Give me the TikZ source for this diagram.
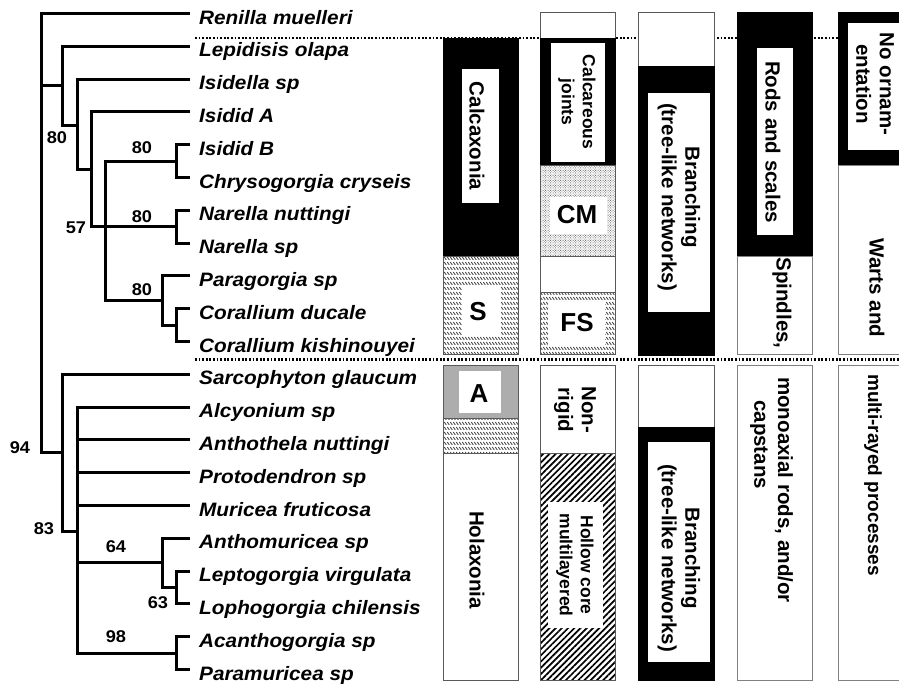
\documentclass[tikz,border=0pt]{standalone}
\usepackage{fontspec}
\setmainfont{Liberation Sans}
\usepackage{graphicx}
\usetikzlibrary{patterns,patterns.meta}
\pgfdeclarepatternformonly{ticks}{\pgfqpoint{-0.5pt}{-0.5pt}}{\pgfqpoint{3.5pt}{5.5pt}}{\pgfqpoint{3pt}{5pt}}{%
  \pgfsetlinewidth{0.9pt}%
  \pgfpathmoveto{\pgfqpoint{0.3pt}{3.9pt}}\pgfpathlineto{\pgfqpoint{2.3pt}{1.1pt}}\pgfusepath{stroke}}
\pgfdeclarepatternformonly{fine dots}{\pgfqpoint{-0.5pt}{-0.5pt}}{\pgfqpoint{3pt}{3pt}}{\pgfqpoint{2.5pt}{2.5pt}}{%
  \pgfpathcircle{\pgfqpoint{0.6pt}{0.6pt}}{0.55pt}%
  \pgfpathcircle{\pgfqpoint{1.85pt}{1.85pt}}{0.45pt}\pgfusepath{fill}}
\newcommand{\sx}[1]{\scalebox{1.07}[1]{#1}}
\begin{document}
\begin{tikzpicture}[x=1pt,y=-1pt,
  branch/.style={line width=3pt, line join=miter},
  taxon/.style={anchor=base west, inner sep=0pt, font=\fontsize{19.4}{21}\selectfont\bfseries\itshape},
  boot/.style={inner sep=0pt, font=\fontsize{17}{19}\selectfont\bfseries},
  vtext/.style={rotate=-90, align=center, inner sep=0pt, font=\fontsize{20.5}{23.5}\selectfont\bfseries},
  vsmall/.style={rotate=-90, align=center, inner sep=0pt, font=\fontsize{17.5}{21}\selectfont\bfseries},
  letter/.style={inner sep=0pt, font=\fontsize{26}{28}\selectfont\bfseries},
  box/.style={draw=black!65, line width=0.9pt, fill=white},
  lightbox/.style={draw=black!50, line width=0.9pt, fill=white},
  blackbox/.style={draw=black, line width=0.8pt, fill=black},
  hole/.style={fill=white, draw=none},
  tickfill/.style={draw=black!65, line width=0.9pt, pattern=ticks, pattern color=black!70},
  stipple/.style={draw=black!65, line width=0.9pt, pattern=fine dots, pattern color=black!60},
  hatch/.style={draw=black!65, line width=0.9pt, pattern={Lines[angle=45,distance=4.4pt,line width=1.7pt]}, pattern color=black},
  grayfill/.style={draw=black!65, line width=0.9pt, fill=black!32},
  dotline/.style={line width=2.2pt, dash pattern=on 1.8pt off 1.8pt}]
\useasboundingbox (0,0) rectangle (899,686);
\clip (0,0) rectangle (899,686);
\fill[white] (0,0) rectangle (899,686);

% ---------- taxa ----------
\foreach \i/\name in {0/Renilla muelleri,1/Lepidisis olapa,2/Isidella sp,3/Isidid A,4/Isidid B,5/Chrysogorgia cryseis,6/Narella nuttingi,7/Narella sp,8/Paragorgia sp,9/Corallium ducale,10/Corallium kishinouyei,11/Sarcophyton glaucum,12/Alcyonium sp,13/Anthothela nuttingi,14/Protodendron sp,15/Muricea fruticosa,16/Anthomuricea sp,17/Leptogorgia virgulata,18/Lophogorgia chilensis,19/Acanthogorgia sp,20/Paramuricea sp}{
  \pgfmathsetmacro{\yy}{13.5+32.8*\i}
  \coordinate (l\i) at (190,\yy);
  \node[taxon] (t\i) at (199,\yy+10.5) {\sx{\name}};
}

% ---------- internal nodes ----------
\coordinate (N1) at (62,85.8);
\coordinate (N2) at (77,125.2);
\coordinate (N3) at (91,169.3);
\coordinate (N4) at (105,226.7);
\coordinate (N5) at (176,161.1);
\coordinate (N6) at (176,226.7);
\coordinate (N7) at (162,300.5);
\coordinate (N8) at (176,325.1);
\coordinate (H1) at (62,452.7);
\coordinate (H2) at (77,531);
\coordinate (H3) at (162,562.9);
\coordinate (H4) at (176,587.5);
\coordinate (H5) at (176,653.1);
\coordinate (Ra) at (41,85.8);
\coordinate (Rb) at (41,452.7);

% ---------- branches ----------
\draw[branch] (l0) -| (Rb) -- (H1);
\draw[branch] (Ra) -- (N1);
\draw[branch] (l1) -| (N1) |- (N2);
\draw[branch] (l2) -| (N2) |- (N3);
\draw[branch] (l3) -| (N3) |- (N4);
\draw[branch] (N5) -| (N4) |- (N7);
\draw[branch] (N4) -- (N6);
\draw[branch] (l4) -| (N5) |- (l5);
\draw[branch] (l6) -| (N6) |- (l7);
\draw[branch] (l8) -| (N7) |- (N8);
\draw[branch] (l9) -| (N8) |- (l10);
\draw[branch] (l11) -| (H1) |- (H2);
\draw[branch] (l12) -| (H2) |- (H5);
\draw[branch] (l13) -- (l13 -| H2);
\draw[branch] (l14) -- (l14 -| H2);
\draw[branch] (l15) -- (l15 -| H2);
\draw[branch] (H2 |- H3) -- (H3);
\draw[branch] (l16) -| (H3) |- (H4);
\draw[branch] (l17) -| (H4) |- (l18);
\draw[branch] (l19) -| (H5) |- (l20);

% ---------- bootstrap values ----------
\node[boot] (b1) at (57,138) {\sx{80}};
\node[boot] (b2) at (142,148) {\sx{80}};
\node[boot] (b3) at (142,217) {\sx{80}};
\node[boot] (b4) at (76,228) {\sx{57}};
\node[boot] (b5) at (142,290) {\sx{80}};
\node[boot] (b6) at (20,448) {\sx{94}};
\node[boot] (b7) at (44,529) {\sx{83}};
\node[boot] (b8) at (116,547) {\sx{64}};
\node[boot] (b9) at (158,603) {\sx{63}};
\node[boot] (b10) at (116,637) {\sx{98}};

% ---------- dotted separators ----------
\draw[dotline] (195,38) -- (899,38);
\draw[dotline] (195,359.5) -- (899,359.5);

% ---------- column 1 ----------
\draw[blackbox] (443,38) rectangle (518,256);
\fill[hole] (462,69) rectangle (499,203);
\draw[tickfill] (443,256) rectangle (518,354);
\fill[hole] (462,286) rectangle (501,336);
\draw[grayfill] (443,365) rectangle (518,418);
\fill[hole] (459,371) rectangle (501,413);
\draw[tickfill] (443,418) rectangle (518,453);
\draw[box] (443,453) rectangle (518,680);
\node[vtext] (calc) at (477,136) {Calcaxonia};
\node[letter] (S) at (478,312) {S};
\node[letter] (A) at (479,394) {A};
\node[vtext] (holax) at (477,560) {Holaxonia};

% ---------- column 2 ----------
\draw[box] (540,12) rectangle (615,38);
\draw[blackbox] (540,38) rectangle (615,165);
\fill[hole] (551,43) rectangle (605,162);
\draw[stipple] (540,165) rectangle (615,256);
\fill[hole] (550,197) rectangle (607,234);
\draw[box] (540,256) rectangle (615,292);
\draw[tickfill] (540,292) rectangle (615,354);
\fill[hole] (548,302) rectangle (605,345);
\draw[box] (540,365) rectangle (615,453);
\draw[hatch] (540,453) rectangle (615,680);
\fill[hole] (548,502) rectangle (603,628);
\node[vsmall] (calj) at (577,102) {Calcareous\\joints};
\node[letter] (CM) at (577,215) {CM};
\node[letter] (FS) at (577,323) {FS};
\node[vtext] (nonr) at (575,410) {Non-\\rigid};
\node[vsmall] (holl) at (575,565) {Hollow core\\multilayered};

% ---------- column 3 ----------
\draw[box] (638,12) rectangle (714,66);
\draw[blackbox] (638,66) rectangle (714,355);
\fill[hole] (648,93) rectangle (710,312);
\draw[box] (638,365) rectangle (714,427);
\draw[blackbox] (638,427) rectangle (714,680);
\fill[hole] (648,442) rectangle (710,662);
\node[vtext] (br1) at (679,197) {Branching\\(tree-like networks)};
\node[vtext] (br2) at (679,558) {Branching\\(tree-like networks)};

% ---------- column 4 ----------
\draw[blackbox] (737,12) rectangle (812,256);
\fill[hole] (757,48) rectangle (793,235);
\draw[lightbox] (737,256) rectangle (812,354);
\draw[lightbox] (737,365) rectangle (812,680);
\node[vtext] (rods) at (773,142) {Rods and scales};
\node[vtext] (spin) at (782,303) {Spindles,};
\node[vtext, anchor=west] (mono) at (784,377) {monoaxial rods, and/or};
\node[vtext, anchor=west] (caps) at (759,400) {capstans};

% ---------- column 5 ----------
\draw[blackbox] (838,12) rectangle (905,165);
\fill[hole] (848,23) rectangle (905,150);
\draw[lightbox] (838,165) rectangle (905,354);
\draw[lightbox] (838,365) rectangle (905,680);
\node[vtext] (noorn) at (875,84) {No ornam-\\entation};
\node[vtext] (warts) at (877,288) {Warts and};
\node[vtext, font=\fontsize{19}{22}\selectfont\bfseries] (multi) at (873,475) {multi-rayed processes};
\end{tikzpicture}
\end{document}
